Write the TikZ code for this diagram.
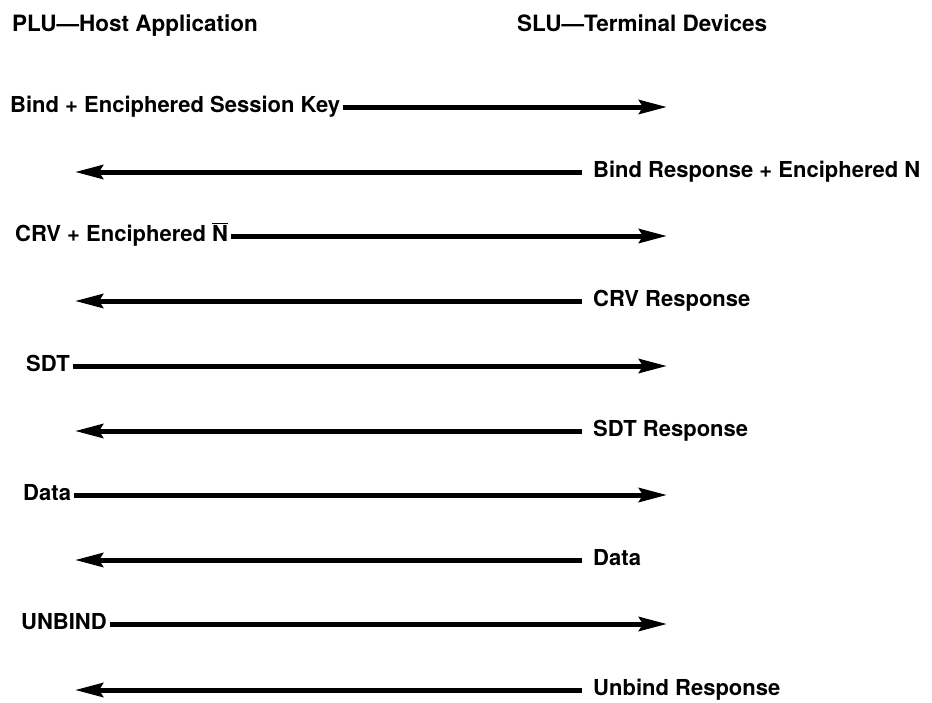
\documentclass[tikz,border=0pt]{standalone}
\usepackage{fontspec}
\setmainfont{TeX Gyre Heros}
\usetikzlibrary{arrows.meta}
\begin{document}
\begin{tikzpicture}[x=1pt,y=-1pt,
  lbl/.style={anchor=west,inner sep=0pt,text height=16pt,text depth=6pt,
    font=\fontsize{22}{26}\selectfont\bfseries},
  ttl/.style={lbl,font=\fontsize{22.5}{26}\selectfont\bfseries},
  msg/.style={line width=5pt,-{Stealth[length=28pt,width=14pt,inset=4pt]}},
  fwd/.style={msg,shorten <=3pt},
  bwd/.style={msg,shorten <=11pt}]
\useasboundingbox (0,0) rectangle (932,702);
% titles
\node[ttl] (plu) at (12,26) {PLU—Host Application};
\node[ttl] (slu) at (517,26) {SLU—Terminal Devices};
% arrow tips
\def\tipR{667}
\def\tipL{75}
% row 1
\node[lbl] (t1) at (10,107) {Bind + Enciphered Session Key};
\coordinate (e1) at (\tipR,107);
\draw[fwd] (t1.east) -- (e1);
% row 2
\node[lbl] (t2) at (593,172) {Bind Response + Enciphered N};
\coordinate (e2) at (\tipL,172);
\draw[bwd] (t2.west) -- (e2);
% row 3
\node[lbl] (t3) at (15,236) {CRV + Enciphered \(\overline{\hbox{N}}\)};
\coordinate (e3) at (\tipR,236);
\draw[fwd] (t3.east) -- (e3);
% row 4
\node[lbl] (t4) at (593,301) {CRV Response};
\coordinate (e4) at (\tipL,301);
\draw[bwd] (t4.west) -- (e4);
% row 5
\node[lbl] (t5) at (26,366) {SDT};
\coordinate (e5) at (\tipR,366);
\draw[fwd] (t5.east) -- (e5);
% row 6
\node[lbl] (t6) at (593,431) {SDT Response};
\coordinate (e6) at (\tipL,431);
\draw[bwd] (t6.west) -- (e6);
% row 7
\node[lbl] (t7) at (23,495) {Data};
\coordinate (e7) at (\tipR,495);
\draw[fwd] (t7.east) -- (e7);
% row 8
\node[lbl] (t8) at (593,560) {Data};
\coordinate (e8) at (\tipL,560);
\draw[bwd] (t8.west) -- (e8);
% row 9
\node[lbl] (t9) at (21,624) {UNBIND};
\coordinate (e9) at (\tipR,624);
\draw[fwd] (t9.east) -- (e9);
% row 10
\node[lbl] (t10) at (593,690) {Unbind Response};
\coordinate (e10) at (\tipL,690);
\draw[bwd] (t10.west) -- (e10);
\end{tikzpicture}
\end{document}
